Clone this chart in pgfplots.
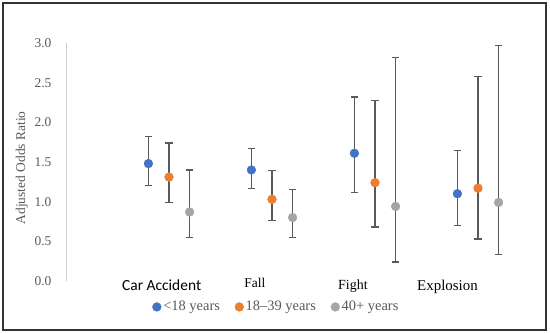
\documentclass[border=0pt]{standalone}
\usepackage{fontspec}
\setmainfont{Liberation Serif}
\newfontfamily\carlito{Carlito}
\usepackage{pgfplots}
\pgfplotsset{compat=1.18}
\definecolor{cblue}{HTML}{4472C4}
\definecolor{corange}{HTML}{ED7D31}
\definecolor{cgray}{HTML}{A5A5A5}
\definecolor{errc}{HTML}{595959}
\definecolor{txtc}{HTML}{595959}
\definecolor{axc}{HTML}{D0D0D0}
\pgfplotsset{
  myerr/.style={error bars/.cd, y dir=both, y explicit,
    error bar style={line width=1.2bp, draw=errc, solid},
    error mark=-,
    error mark options={rotate=90, line width=1.2bp, draw=errc, mark size=3.6bp, solid}},
}
\begin{document}
\begin{tikzpicture}
\useasboundingbox (0,0) rectangle (550bp,333bp);
\draw[line width=1.8bp, black!80] (3bp,3bp) rectangle (546bp,330bp);
\begin{axis}[
  at={(66bp,52bp)}, anchor=south west,
  scale only axis, width=463.5bp, height=238bp,
  xmin=-1, xmax=3.5, ymin=0, ymax=3,
  clip=false,
  axis x line=none, axis y line=left,
  y axis line style={draw=axc, line width=1bp, -},
  ytick={0,0.5,...,3.0},
  ytick style={draw=none},
  yticklabel style={font=\fontsize{13.5}{16}\selectfont, text=txtc, xshift=-9bp,
     /pgf/number format/.cd, fixed, fixed zerofill, precision=1, assume math mode=true},
  ylabel={Adjusted Odds Ratio},
  ylabel style={at={(axis description cs:-0.095,0.475)}, anchor=center, font=\fontsize{13.5}{16}\selectfont, text=txtc},
  legend columns=3,
  legend style={draw=none, fill=none, at={(axis description cs:0.454,-0.109)}, anchor=center,
     font=\fontsize{14.5}{17}\selectfont, text=txtc,
     /tikz/every even column/.append style={column sep=13bp}},
  legend image code/.code={\draw[#1] plot coordinates {(0.15cm,0cm)};},
]
\addplot[only marks, mark=*, mark size=4.4bp, draw=cblue, fill=cblue, myerr]
  table[x=x, y=y, y error plus=ep, y error minus=em] {
x    y    ep   em
-0.2 1.48 0.34 0.28
0.8  1.40 0.27 0.23
1.8  1.61 0.71 0.49
2.8  1.10 0.55 0.40
};
\addlegendentry{<18 years}
\addplot[only marks, mark=*, mark size=4.4bp, draw=corange, fill=corange, myerr]
  table[x=x, y=y, y error plus=ep, y error minus=em] {
x    y    ep   em
0.0  1.31 0.43 0.32
1.0  1.03 0.36 0.27
2.0  1.24 1.04 0.56
3.0  1.17 1.41 0.64
};
\addlegendentry{18–39 years}
\addplot[only marks, mark=*, mark size=4.4bp, draw=cgray, fill=cgray, myerr]
  table[x=x, y=y, y error plus=ep, y error minus=em] {
x    y    ep   em
0.2  0.87 0.53 0.32
1.2  0.80 0.35 0.25
2.2  0.94 1.88 0.70
3.2  0.99 1.98 0.66
};
\addlegendentry{40+ years}
\node[anchor=base, inner sep=0pt, font=\carlito\fontsize{15.5}{18}\selectfont] at (axis cs:-0.071,-0.126) {Car Accident};
\node[anchor=base, inner sep=0pt, font=\fontsize{13.5}{16}\selectfont] at (axis cs:0.833,-0.088) {Fall};
\node[anchor=base, inner sep=0pt, font=\fontsize{14}{16}\selectfont] at (axis cs:1.786,-0.105) {Fight};
\node[anchor=base, inner sep=0pt, font=\fontsize{15}{18}\selectfont] at (axis cs:2.704,-0.122) {Explosion};
\end{axis}
\end{tikzpicture}
\end{document}
